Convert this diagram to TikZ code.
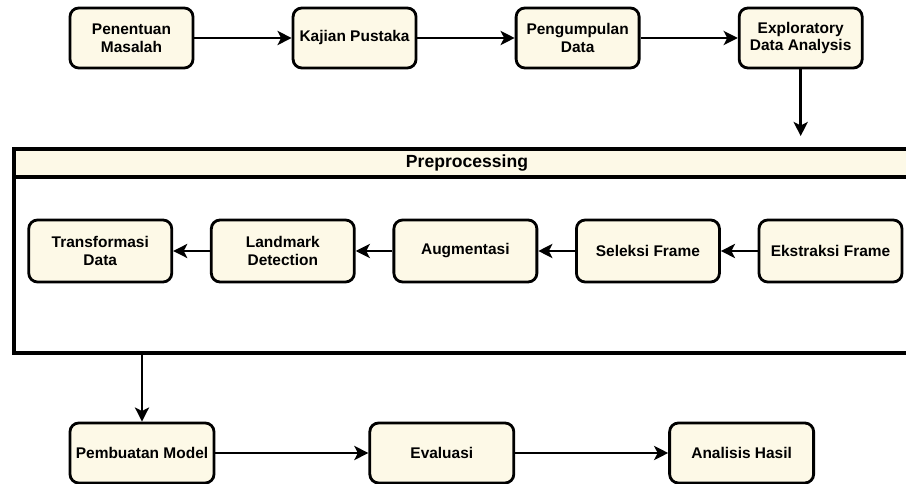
\documentclass[tikz,border=0pt]{standalone}
\usepackage{fontspec}
\setmainfont{Liberation Sans}
\usepackage{xcolor}
\usetikzlibrary{arrows.meta,positioning}
\definecolor{stagecream}{HTML}{FDF9E7}

\begin{document}
\begin{tikzpicture}[
    node distance=1.945cm,
    stage/.style={rectangle, draw, line width=1.6pt, rounded corners=5pt, fill=stagecream, align=center, inner sep=1pt, font=\fontsize{8.8}{10}\selectfont\bfseries},
    topstage/.style={stage, minimum width=2.46cm, minimum height=1.2cm},
    prestage/.style={stage, minimum width=2.86cm, minimum height=1.24cm},
    endstage/.style={stage, minimum width=2.88cm, minimum height=1.2cm},
    frame/.style={rectangle, draw, line width=2.2pt, minimum width=18.12cm},
    arr/.style={-{Stealth[length=8pt, width=8pt, inset=2pt]}, line width=1.6pt},
]
    \useasboundingbox (0,0) rectangle (18.12,-9.68);
    \clip (0,0) rectangle (18.12,-9.68);

    % Tahap awal
    \node[topstage] (masalah) at (2.63,-0.76) {Penentuan\\Masalah};
    \node[topstage, right=of masalah] (pustaka) {Kajian Pustaka};
    \node[topstage, right=of pustaka] (data) {Pengumpulan\\Data};
    \node[topstage, right=of data] (eda) {Exploratory\\Data Analysis};

    % Preprocessing
    \node[frame, fill=white, minimum height=4.08cm] (prep) at (9.34,-5.02) {};
    \node[frame, fill=stagecream, minimum height=0.46cm, anchor=north, font=\fontsize{10}{11}\selectfont\bfseries] (prephead) at (prep.north) {Preprocessing};

    \node[prestage] (ekstraksi) at (16.61,-5.02) {Ekstraksi Frame};
    \node[prestage, left=0.735cm of ekstraksi] (seleksi) {Seleksi Frame};
    \node[prestage, left=0.735cm of seleksi] (augmentasi) {Augmentasi};
    \node[prestage, left=0.735cm of augmentasi] (landmark) {Landmark\\Detection};
    \node[prestage, left=0.735cm of landmark] (transformasi) {Transformasi\\Data};

    % Tahap akhir
    \node[endstage] (model) at (2.84,-9.06) {Pembuatan Model};
    \node[endstage, right=3.06cm of model] (evaluasi) {Evaluasi};
    \node[endstage, right=3.06cm of evaluasi] (hasil) {Analisis Hasil};

    % Arrows
    \draw[arr] (masalah) -- (pustaka);
    \draw[arr] (pustaka) -- (data);
    \draw[arr] (data) -- (eda);
    \draw[arr, shorten >=0.22cm] (eda) -- (eda |- prep.north);
    \draw[arr] (ekstraksi) -- (seleksi);
    \draw[arr] (seleksi) -- (augmentasi);
    \draw[arr] (augmentasi) -- (landmark);
    \draw[arr] (landmark) -- (transformasi);
    \draw[arr] (prep.south -| model) -- (model);
    \draw[arr] (model) -- (evaluasi);
    \draw[arr] (evaluasi) -- (hasil);
\end{tikzpicture}
\end{document}
